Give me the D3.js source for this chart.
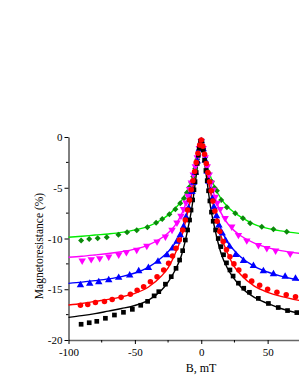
<!DOCTYPE html>
<html><head><meta charset="utf-8">
<script src="https://cdn.jsdelivr.net/npm/d3@7"></script>
<style>html,body{margin:0;padding:0;background:#fff;overflow:hidden}</style>
</head><body>
<svg id="chart" width="299" height="387"></svg>
<script>
// ---- data (B in mT, magnetoresistance in %) ----
const seriesNames = ["black", "red", "blue", "magenta", "green"];
const xTicks = [-100, -50, 0, 50];
const xMinorTicks = [-75, -25, 25];
const yTicks = [0, -5, -10, -15, -20];
const yMinorTicks = [-2.5, -7.5, -12.5, -17.5];

const blackPts = [[-90.5,-18.45],[-84.4,-18.3],[-78.7,-18.16],[-72.2,-17.86],[-65.4,-17.54],[-58.6,-17.27],[-51.9,-16.98],[-45.6,-16.58],[-40.4,-16.19],[-35.5,-15.65],[-32,-15.24],[-27,-14.5],[-22.6,-13.76],[-19,-12.94],[-16.3,-12.12],[-14,-11.2],[-12,-10.15],[-10.3,-9.16],[-8.8,-8.18],[-7.7,-7.2],[-6.5,-6.2],[-5.5,-5.2],[-4.7,-4.4],[-3.8,-3.5],[-3,-2.6],[-2.2,-1.8],[-1.5,-1.1],[-0.5,-0.4],
  [0.5,-0.4],[1.5,-1.3],[2.5,-2.3],[3.5,-3.3],[4.5,-4.3],[5.5,-5.3],[6.5,-6.3],[7.7,-7.4],[9,-8.3],[10.8,-9.16],[12.8,-10],[14.8,-10.8],[16.8,-11.6],[19,-12.4],[21.6,-13.1],[24,-13.7],[28,-14.4],[32,-14.9],[36.3,-15.3],[43,-15.9],[50.6,-16.4],[58,-16.8],[65,-17.1],[72,-17.3]];
const redPts = [[-91,-16.58],[-85.5,-16.5],[-79.7,-16.3],[-72.9,-16.2],[-67.1,-16.0],[-60.4,-15.8],[-53.4,-15.5],[-48.3,-15.1],[-43.4,-14.75],[-38.3,-14.26],[-33.3,-13.76],[-28.3,-13.1],[-24.6,-12.44],[-21.6,-11.72],[-19,-10.97],[-16.5,-10.15],[-14,-9.16],[-12,-8.18],[-10.3,-7.2],[-8.8,-6.2],[-7.5,-5.2],[-6.3,-4.3],[-5,-3.4],[-3.8,-2.5],[-2.5,-1.6],[-1.2,-0.8],[0,-0.3],
  [1.2,-0.9],[2.5,-1.7],[3.8,-2.6],[5,-3.5],[6.3,-4.4],[7.5,-5.3],[8.8,-6.3],[10.3,-7.3],[12,-8.3],[14,-9.3],[16.5,-10.3],[19,-11.1],[21.6,-11.8],[24.6,-12.5],[28.3,-13.1],[33,-13.7],[38,-14.2],[44,-14.6],[50,-15.0],[57,-15.3],[64,-15.55],[71,-15.75]];
const bluePts = [[-91,-14.58],[-84,-14.45],[-77.2,-14.29],[-69.7,-14.09],[-62.2,-13.86],[-53.9,-13.63],[-47.1,-13.2],[-39.8,-12.88],[-32.6,-12.28],[-25.8,-11.63],[-21.6,-10.97],[-18.3,-10.3],[-15.8,-9.66],[-13.3,-8.84],[-11.5,-7.9],[-9.5,-7.0],[-8.3,-6.2],[-7,-5.4],[-5.7,-4.5],[-4.4,-3.5],[-3,-2.4],[-1.5,-1.2],[0,-0.4],
  [1.5,-1.2],[3,-2.3],[4.4,-3.4],[5.7,-4.4],[7,-5.3],[8.3,-6.1],[9.5,-6.9],[11.5,-7.8],[13.3,-8.7],[15.8,-9.5],[18.3,-10.2],[21.3,-10.8],[26,-11.6],[31.8,-12.2],[39.3,-12.7],[46.8,-13.2],[54.4,-13.5],[63.2,-13.75],[71,-13.95]];
const magentaPts = [[-89.7,-12.18],[-82.9,-12.05],[-76.5,-11.95],[-69.7,-11.79],[-62.2,-11.6],[-56.4,-11.36],[-48.6,-11.13],[-41,-10.74],[-33.3,-10.3],[-27,-9.82],[-22,-9.16],[-18.3,-8.44],[-15.3,-7.78],[-13.3,-7.12],[-11.5,-6.47],[-10,-5.81],[-8.8,-5.15],[-7.5,-4.5],[-6,-3.7],[-4.5,-2.9],[-3,-2.0],[-1.5,-1.1],[0,-0.4],
  [1.5,-1.1],[3,-2.0],[4.5,-2.9],[6,-3.7],[7.5,-4.5],[9,-5.2],[10.5,-5.9],[12,-6.5],[14.3,-7.1],[18,-8.0],[23,-8.84],[28,-9.66],[34.3,-10.2],[43,-10.65],[49.4,-10.95],[56,-11.2],[67,-11.5]];
const greenPts = [[-90.5,-10.2],[-84.4,-10.05],[-78,-9.98],[-71.2,-9.88],[-62.4,-9.63],[-55.9,-9.39],[-48.6,-9.19],[-40.6,-8.9],[-34,-8.44],[-29.4,-8.08],[-24,-7.6],[-19.5,-7.12],[-15.8,-6.53],[-13,-6.04],[-10.8,-5.49],[-9,-4.96],[-7.5,-4.5],[-6,-3.9],[-4.5,-3.1],[-3,-2.2],[-1.5,-1.2],[0,-0.4],
  [1.5,-1.1],[3,-2.0],[4.5,-2.8],[6,-3.6],[8,-4.4],[10,-5.0],[11.8,-5.3],[15,-6.2],[19.3,-6.93],[25.6,-7.52],[31.4,-8.0],[36.8,-8.5],[45.6,-8.84],[54.4,-9.09],[64.4,-9.33]];

const blackFit = [[-100,-17.77],[-90,-17.6],[-80,-17.4],[-70,-17.15],[-60,-16.9],[-50,-16.6],[-40,-16.1],[-30,-15.1],[-25,-14.3],[-20,-13.2],[-15,-11.7],[-10,-9.0],[-7,-6.9],[-4,-4.0],[-2,-2.0],[0,-0.3],[2,-2.0],[4,-4.0],[7,-6.9],[10,-8.9],[15,-11.5],[20,-13.0],[25,-14.0],[30,-14.8],[40,-15.8],[50,-16.4],[60,-16.9],[73.7,-17.37]];
const redFit = [[-100,-16.55],[-90,-16.4],[-80,-16.2],[-70,-16.0],[-60,-15.75],[-50,-15.4],[-40,-14.8],[-30,-13.7],[-25,-12.9],[-20,-11.6],[-15,-9.9],[-10,-7.3],[-7,-5.5],[-4,-3.3],[-2,-1.7],[0,-0.3],[2,-1.7],[4,-3.3],[7,-5.4],[10,-7.2],[15,-9.8],[20,-11.5],[25,-12.8],[30,-13.6],[40,-14.7],[50,-15.3],[60,-15.7],[73.7,-16.1]];
const blueFit = [[-100,-14.42],[-90,-14.3],[-80,-14.15],[-70,-13.98],[-60,-13.75],[-50,-13.4],[-40,-12.85],[-30,-11.9],[-25,-11.3],[-20,-10.5],[-15,-9.2],[-10,-7.1],[-7,-5.4],[-4,-3.3],[-2,-1.7],[0,-0.3],[2,-1.7],[4,-3.3],[7,-5.3],[10,-7.0],[15,-9.1],[20,-10.4],[25,-11.2],[30,-11.85],[40,-12.75],[50,-13.3],[60,-13.7],[73.7,-14.1]];
const magentaFit = [[-100,-11.85],[-90,-11.75],[-80,-11.62],[-70,-11.48],[-60,-11.3],[-50,-11.05],[-40,-10.65],[-30,-9.95],[-25,-9.45],[-20,-8.75],[-15,-7.65],[-10,-5.9],[-7,-4.6],[-4,-2.9],[-2,-1.6],[0,-0.3],[2,-1.6],[4,-2.9],[7,-4.5],[10,-5.8],[15,-7.5],[20,-8.55],[25,-9.25],[30,-9.75],[40,-10.45],[50,-10.9],[60,-11.2],[73.7,-11.46]];
const greenFit = [[-100,-9.88],[-90,-9.78],[-80,-9.66],[-70,-9.55],[-60,-9.4],[-50,-9.15],[-40,-8.8],[-30,-8.15],[-25,-7.7],[-20,-7.1],[-15,-6.3],[-10,-5.1],[-7,-4.2],[-4,-2.7],[-2,-1.5],[0,-0.3],[2,-1.4],[4,-2.5],[7,-3.9],[10,-4.9],[15,-6.1],[20,-6.9],[25,-7.45],[30,-7.9],[40,-8.6],[50,-9.0],[60,-9.25],[73.7,-9.5]];

// ---- build ----
const series = [
  {pts: greenPts, fit: greenFit, line: "#00ee00", mark: "#0a8a0a", sym: d3.symbolSquare, size: 18, rot: 45},
  {pts: magentaPts, fit: magentaFit, line: "#ff00ff", mark: "#ff00ff", sym: d3.symbolTriangle, size: 24, rot: 180},
  {pts: bluePts, fit: blueFit, line: "#0000ff", mark: "#0000ff", sym: d3.symbolTriangle, size: 24, rot: 0},
  {pts: blackPts, fit: blackFit, line: "#000000", mark: "#000000", sym: d3.symbolSquare, size: 22, rot: 0},
  {pts: redPts, fit: redFit, line: "#ff0000", mark: "#ff0000", sym: d3.symbolCircle, size: 24, rot: 0}
];

const svg = d3.select("#chart");
const x = d3.scaleLinear().domain([-100, 100]).range([68.5, 334]);
const y = d3.scaleLinear().domain([-20, 0]).range([340, 137]);
const font = "Liberation Serif, Times New Roman, serif";
const fmt = d => String(d);

// axes
const xAxis = d3.axisBottom(x).tickValues(xTicks).tickSize(4).tickSizeOuter(0).tickFormat(fmt);
const gx = svg.append("g").attr("transform", "translate(0,340)").call(xAxis);
gx.attr("font-family", font);
gx.append("g").selectAll("line").data(xMinorTicks).join("line")
  .attr("x1", d => x(d)).attr("x2", d => x(d)).attr("y1", 0).attr("y2", 2.5).attr("stroke", "#000");
gx.select(".domain").attr("stroke", "#666").attr("stroke-width", 1.3);
gx.selectAll(".tick text").style("font-family", font).attr("font-size", 11).attr("fill", "#000").attr("dy", "0.85em");

const yAxis = d3.axisLeft(y).tickValues(yTicks).tickSize(4).tickSizeOuter(0).tickFormat(fmt);
const gy = svg.append("g").attr("transform", "translate(68.5,0)").call(yAxis);
gy.attr("font-family", font);
gy.append("g").selectAll("line").data(yMinorTicks).join("line")
  .attr("x1", 0).attr("x2", -2.5).attr("y1", d => y(d)).attr("y2", d => y(d)).attr("stroke", "#000");
gy.selectAll(".tick text").style("font-family", font).attr("font-size", 11).attr("fill", "#000").attr("x", -6);

// labels
svg.append("text").attr("transform", "translate(43,246) rotate(-90)").attr("text-anchor", "middle")
  .style("font-family", font).attr("font-size", 11.5).text("Magnetoresistance (%)");
svg.append("text").attr("x", 201).attr("y", 372).attr("text-anchor", "middle")
  .style("font-family", font).attr("font-size", 12).text("B, mT");

// lines
const line = d3.line().x(d => x(d[0])).y(d => y(d[1])).curve(d3.curveMonotoneX);
const plot = svg.append("g");
series.forEach(s => {
  plot.append("path").datum(s.fit).attr("d", line).attr("fill", "none")
    .attr("stroke", s.line).attr("stroke-width", 1.4);
});
series.forEach(s => {
  const sym = d3.symbol().type(s.sym).size(s.size);
  plot.append("g").selectAll("path").data(s.pts).join("path")
    .attr("d", sym)
    .attr("transform", d => `translate(${x(d[0])},${y(d[1])}) rotate(${s.rot})`)
    .attr("fill", s.mark);
});
</script>
</body></html>
